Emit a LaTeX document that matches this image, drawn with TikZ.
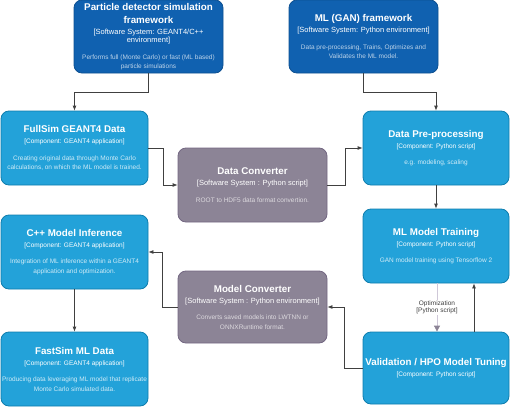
\documentclass[tikz,border=0pt]{standalone}
\usepackage{fontspec}
\setmainfont{Liberation Sans}
\usetikzlibrary{arrows.meta}
\definecolor{sysfill}{HTML}{1061B0}
\definecolor{sysdraw}{HTML}{0D5091}
\definecolor{confill}{HTML}{23A2D9}
\definecolor{condraw}{HTML}{0E7DAD}
\definecolor{extfill}{HTML}{8C8496}
\definecolor{extdraw}{HTML}{736782}
\definecolor{linecol}{HTML}{404040}
\definecolor{optcol}{HTML}{CFC8D8}
\colorlet{desccol}{white}
\newcommand\bxt[4]{%
  {\fontsize{9.8}{13}\selectfont\bfseries #1\par}%
  \vspace{2.5pt}%
  {\fontsize{#2}{8.5}\selectfont #3\par}%
  \vspace{7pt}%
  {\fontsize{6.5}{9.5}\selectfont\color{desccol}#4\par}}
\newcommand\bxtt[3]{%
  {\fontsize{9.8}{13}\selectfont\bfseries #1\par}%
  \vspace{2.5pt}%
  {\fontsize{#2}{8.5}\selectfont #3\par}}
\tikzset{
  desccolor/.code={\colorlet{desccol}{#1}},
  card/.style={rectangle, rounded corners=8pt, line width=0.8pt, text=white,
    inner xsep=0pt, inner ysep=0pt, align=flush center},
  sysbox/.style={card, fill=sysfill, draw=sysdraw, desccolor=white!72!sysfill},
  conbox/.style={card, fill=confill, draw=condraw, desccolor=white!78!confill},
  extbox/.style={card, fill=extfill, draw=extdraw, desccolor=white!70!extfill},
  conn/.style={draw=linecol, line width=0.8pt, -{Latex[length=5pt,width=4pt]}},
  optline/.style={draw=optcol, line width=0.8pt, -{Triangle[length=6pt,width=6pt,fill=extfill,color=extfill]}},
  optlabel/.style={fill=white, text=linecol, inner sep=0.5pt, align=center,
    font=\fontsize{6.5}{7.5}\selectfont}
}
\begin{document}
\begin{tikzpicture}[x=1pt, y=-1pt]
\useasboundingbox (0,0) rectangle (512,407);

\node[sysbox, text width=149pt, minimum height=73pt] (part) at (148.5,36.5)
  {\bxt{Particle detector simulation\\framework}{7.5}{[Software System: GEANT4/C++\\environment]}{Performs full (Monte Carlo) or fast (ML based)\\particle simulations}};
\node[sysbox, text width=149pt, minimum height=73pt] (gan) at (363.5,36.5)
  {\bxt{ML (GAN) framework}{7.5}{[Software System: Python environment]}{Data pre-processing, Trains, Optimizes and\\Validates the ML model.}};

\node[conbox, text width=147pt, minimum height=74pt] (full) at (74.5,148)
  {\bxt{FullSim GEANT4 Data}{6.5}{[Component: GEANT4 application]}{Creating original data through Monte Carlo\\calculations, on which the ML model is trained.}};
\node[extbox, text width=149pt, minimum height=74pt] (dconv) at (252.5,185)
  {\bxt{Data Converter}{7.5}{[Software System : Python script]}{ROOT to HDF5 data format convertion.}};
\node[conbox, text width=146pt, minimum height=74pt] (dpre) at (436,148)
  {\bxt{Data Pre-processing}{6.5}{[Component: Python script]}{e.g. modeling, scaling}};
\node[conbox, text width=146pt, minimum height=74pt] (train) at (436,246)
  {\bxt{ML Model Training}{6.5}{[Component: Python script]}{GAN model training using Tensorflow 2}};
\node[conbox, text width=147pt, minimum height=74pt] (cpp) at (74.5,252)
  {\bxt{C++ Model Inference}{6.5}{[Component: GEANT4 application]}{Integration of ML inference within a GEANT4\\application and optimization.}};
\node[extbox, text width=149pt, minimum height=72pt] (mconv) at (252.5,307)
  {\bxt{Model Converter}{7.5}{[Software System : Python environment]}{Converts saved models into LWTNN or\\ONNXRuntime format.}};
\node[conbox, text width=146pt, minimum height=72pt] (valid) at (436,368)
  {\bxtt{Validation / HPO Model Tuning}{6.5}{[Component: Python script]}};
\node[conbox, text width=147pt, minimum height=74pt] (fast) at (74.5,369)
  {\bxt{FastSim ML Data}{6.5}{[Component: GEANT4 application]}{Producing data leveraging ML model that replicate\\Monte Carlo simulated data.}};

\draw[conn] (part.south) -- ++(0,19) -| (full.north);
\draw[conn] (gan.south) -- ++(0,19) -| (dpre.north);
\draw[conn] (full.east) -- ++(15,0) |- (dconv.west);
\draw[conn] (dconv.east) -- ++(18,0) |- (dpre.west);
\draw[conn] (dpre.south) -- (train.north);
\draw[optline] ([xshift=1pt]train.south) -- node[optlabel] (optl) {Optimization\\{}[Python script]} ([xshift=1pt]valid.north);
\draw[conn] ([xshift=38pt]valid.north) -- ([xshift=38pt]train.south);
\draw[conn] (valid.west) -- ++(-18,0) |- (mconv.east);
\draw[conn] (mconv.west) -- ++(-15,0) |- (cpp.east);
\draw[conn] (cpp.south) -- (fast.north);
\end{tikzpicture}
\end{document}
